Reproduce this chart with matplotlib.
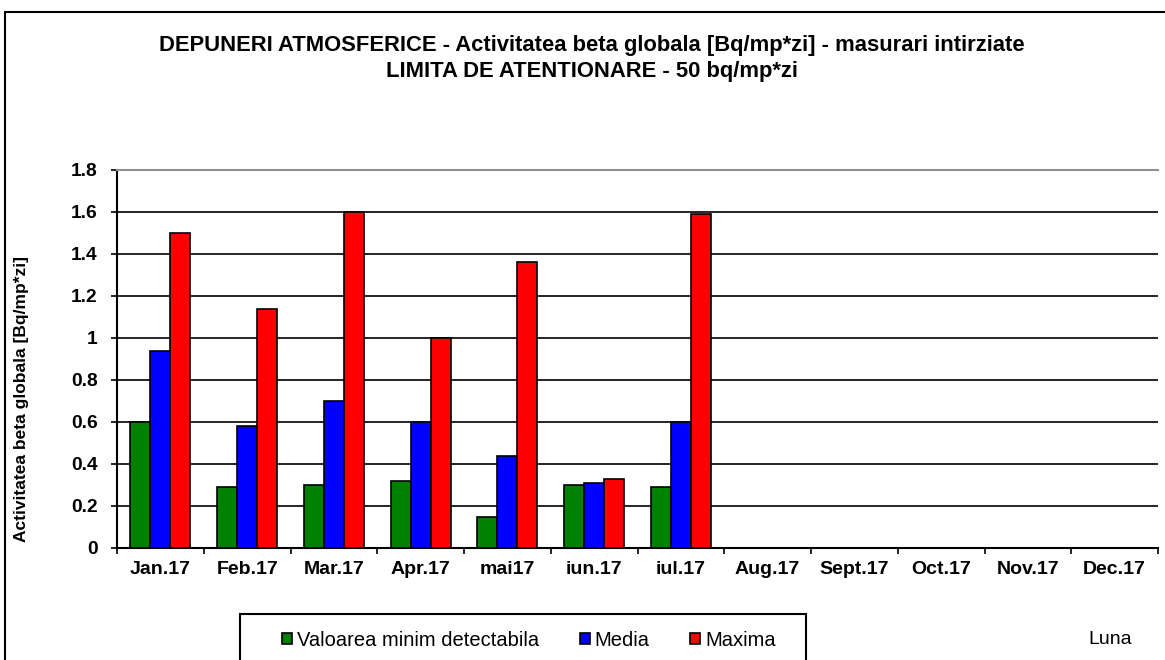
import matplotlib
matplotlib.use("Agg")
import matplotlib.pyplot as plt
import numpy as np
from matplotlib.patches import Rectangle

months = ["Jan.17", "Feb.17", "Mar.17", "Apr.17", "mai17", "iun.17", "iul.17",
          "Aug.17", "Sept.17", "Oct.17", "Nov.17", "Dec.17"]
nan = np.nan
minim = [0.60, 0.29, 0.30, 0.32, 0.15, 0.30, 0.29, nan, nan, nan, nan, nan]
media = [0.94, 0.58, 0.70, 0.60, 0.44, 0.31, 0.60, nan, nan, nan, nan, nan]
maxima = [1.50, 1.14, 1.60, 1.00, 1.36, 0.33, 1.59, nan, nan, nan, nan, nan]

series = [
    ("Valoarea minim detectabila", minim, "#008000"),
    ("Media", media, "#0000ff"),
    ("Maxima", maxima, "#ff0000"),
]

plt.rcParams["font.family"] = ["Liberation Sans", "DejaVu Sans"]

W, H = 1165, 660
fig = plt.figure(figsize=(W / 100, H / 100), dpi=100)
ax = fig.add_axes([117 / W, 1 - 548 / H, (1158 - 117) / W, (548 - 170) / H])

x = np.arange(len(months))
w = 0.23
for i, (label, vals, color) in enumerate(series):
    ax.bar(x + (i - 1) * w, vals, width=w, color=color, edgecolor="black",
           linewidth=1.2, label=label, zorder=3)

ax.set_xlim(-0.5, len(months) - 0.5)
ax.set_ylim(0, 1.8)
ax.set_yticks(np.arange(0, 1.81, 0.2))
ax.set_yticklabels(["0", "0.2", "0.4", "0.6", "0.8", "1", "1.2", "1.4", "1.6", "1.8"],
                   fontsize=13.8, fontweight="bold")
ax.set_xticks(np.arange(-0.5, len(months) + 0.5, 1))
ax.set_xticklabels([])
ax.set_xticks(x, minor=True)
ax.set_xticklabels(months, minor=True, fontsize=14, fontweight="bold")
ax.tick_params(axis="x", which="minor", length=0, pad=9)
ax.tick_params(axis="x", which="major", length=4.5, width=1.2, direction="out")
ax.tick_params(axis="y", length=4.5, width=1.2, direction="out", pad=9.5)

ax.grid(axis="y", color="black", linewidth=1.2, zorder=0)
for s in ["left", "bottom"]:
    ax.spines[s].set_linewidth(1.5)
ax.spines["top"].set_color("#909090")
ax.spines["top"].set_linewidth(1.5)
ax.spines["right"].set_visible(False)

fig.text(22 / W, 1 - 399 / H, "Activitatea beta globala [Bq/mp*zi]", rotation=90,
         ha="center", va="center", fontsize=12.5, fontweight="bold")

fig.text(592 / W, 1 - 45 / H,
         "DEPUNERI ATMOSFERICE - Activitatea beta globala [Bq/mp*zi] - masurari intirziate",
         ha="center", va="center", fontsize=15.8, fontweight="bold")
fig.text(592 / W, 1 - 71 / H, "LIMITA DE ATENTIONARE - 50 bq/mp*zi",
         ha="center", va="center", fontsize=15.8, fontweight="bold")

fig.text(1110 / W, 1 - 640 / H, "Luna", ha="center", va="center", fontsize=14)

# legend box (runs off the bottom edge like the original)
fig.patches.append(Rectangle((240 / W, -0.05), (806 - 240) / W, 1 - 614 / H + 0.05,
                             transform=fig.transFigure, fill=False,
                             edgecolor="black", linewidth=1.5))
fig.legend(loc="center left", bbox_to_anchor=(282 / W, 1 - 640 / H), ncol=3,
           frameon=False, fontsize=14.5, handlelength=0.5, handleheight=0.5,
           handletextpad=0.25, columnspacing=2.0, borderpad=0, borderaxespad=0)

# outer chart border
fig.patches.append(Rectangle((5 / W, -0.05), 1.1, 1 - 12 / H + 0.05,
                             transform=fig.transFigure, fill=False,
                             edgecolor="black", linewidth=1.5))

fig.savefig("out.png", dpi=100)
